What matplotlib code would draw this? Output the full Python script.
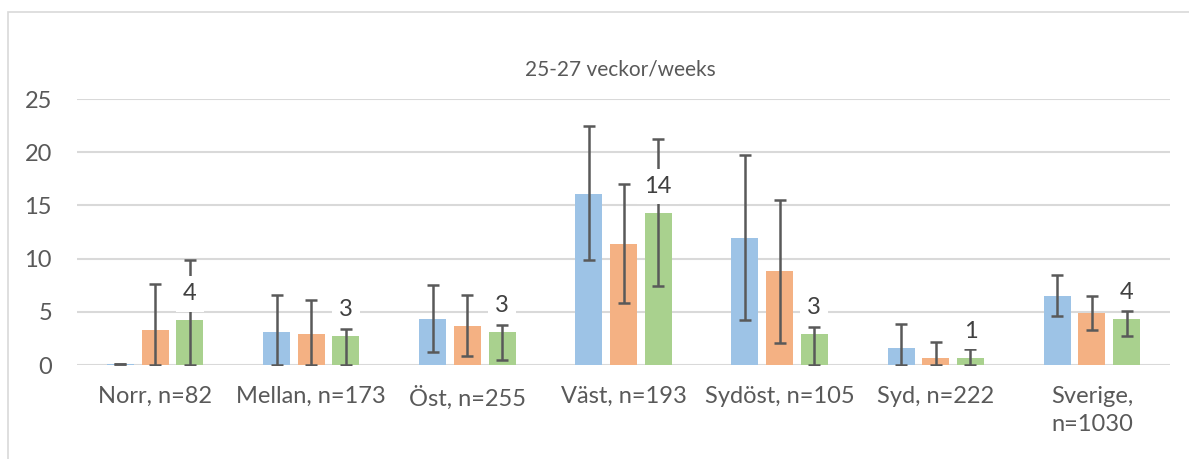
import numpy as np
import matplotlib.pyplot as plt
from matplotlib.patches import Rectangle

plt.rcParams['font.family'] = ['Lato', 'DejaVu Sans']

regions = ['Norr, n=82', 'Mellan, n=173', 'Öst, n=255', 'Väst, n=193',
           'Sydöst, n=105', 'Syd, n=222', 'Sverige,\nn=1030']

# three series per region (blue, orange, green)
blue_vals = [0.05, 3.1, 4.35, 16.1, 11.95, 1.6, 6.5]
orange_vals = [3.25, 2.9, 3.65, 11.35, 8.8, 0.7, 4.85]
green_vals = [4.2, 2.7, 3.1, 14.3, 2.9, 0.7, 4.35]

blue_lo = [0.05, 0.0, 1.2, 9.85, 4.2, 0.0, 4.6]
blue_hi = [0.05, 6.6, 7.55, 22.5, 19.7, 3.85, 8.5]
orange_lo = [0.0, 0.0, 0.85, 5.8, 2.1, 0.0, 3.25]
orange_hi = [7.65, 6.15, 6.55, 17.0, 15.55, 2.2, 6.5]
green_lo = [0.0, 0.0, 0.45, 7.4, 0.0, 0.0, 2.75]
green_hi = [9.85, 3.4, 3.8, 21.2, 3.6, 1.5, 5.05]

green_labels = ['4', '3', '3', '14', '3', '1', '4']

fig = plt.figure(figsize=(11.89, 4.59), dpi=100)
ax = fig.add_axes([77 / 1189, 94 / 459, 1093 / 1189, 266 / 459])

# outer chart border
fig.patches.append(Rectangle((8 / 1189, -0.1), 1.2, 0.1 + 447 / 459,
                             transform=fig.transFigure, fill=False,
                             edgecolor='#D9D9D9', linewidth=1.2))

x = np.arange(len(regions))
w = 0.173
step = 0.222
colors = ['#9DC3E6', '#F4B183', '#A9D18E']
series = [(blue_vals, blue_lo, blue_hi), (orange_vals, orange_lo, orange_hi),
          (green_vals, green_lo, green_hi)]

for k, (vals, lo, hi) in enumerate(series):
    pos = x + (k - 1) * step
    vals = np.array(vals)
    ax.bar(pos, vals, width=w, color=colors[k], zorder=2)
    yerr = [vals - np.array(lo), np.array(hi) - vals]
    ax.errorbar(pos, vals, yerr=yerr, fmt='none', ecolor='#595959',
                elinewidth=1.8, capsize=4.2, capthick=1.8, zorder=3)

for i, lab in enumerate(green_labels):
    ax.annotate(lab, (x[i] + step, green_vals[i]), xytext=(0, 19),
                textcoords='offset points', ha='center', va='center',
                fontsize=17, color='#404040', zorder=4,
                bbox=dict(boxstyle='square,pad=0.3', fc='white', ec='none'))

ax.set_xlim(-0.5, len(regions) - 0.5)
ax.set_ylim(0, 25)
ax.set_yticks([0, 5, 10, 15, 20, 25])
ax.yaxis.grid(True, color='#D9D9D9', linewidth=1.5, zorder=0)
ax.set_axisbelow(True)
for s in ax.spines.values():
    s.set_visible(False)
ax.set_xticks(x)
ax.set_xticklabels(regions, linespacing=1.45)
ax.tick_params(axis='both', length=0, labelsize=17, labelcolor='#595959')
ax.tick_params(axis='x', pad=15)
ax.tick_params(axis='y', pad=18)

fig.text(620 / 1189, 1 - 70 / 459, '25-27 veckor/weeks', ha='center',
         va='center', fontsize=15, color='#595959')

fig.savefig('out.png', dpi=100)
